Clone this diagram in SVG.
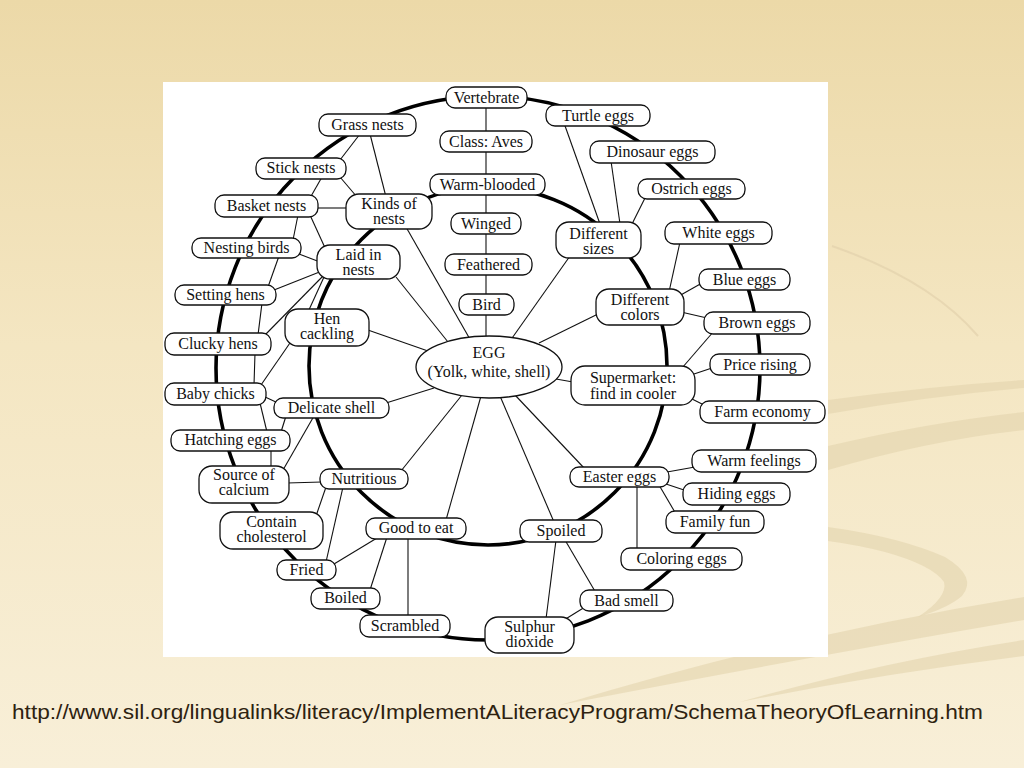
<svg xmlns="http://www.w3.org/2000/svg" width="1024" height="768" viewBox="0 0 1024 768">
<defs>
<linearGradient id="bg" x1="0" y1="0" x2="0" y2="1">
<stop offset="0" stop-color="#ECD9A8"/>
<stop offset="0.45" stop-color="#F4E6C2"/>
<stop offset="1" stop-color="#F8EFD8"/>
</linearGradient>
<style>
.n rect,.n ellipse{fill:#fff;stroke:#111;stroke-width:1.3}
.n text{font-family:"Liberation Serif","Times New Roman",serif;font-size:16px;fill:#111;text-anchor:middle}
.thin line{stroke:#111;stroke-width:1.1}
.thick{fill:none;stroke:#000;stroke-width:3.6}
.deco{fill:#E2D3AE;opacity:0.6}
</style>
</defs>
<rect x="0" y="0" width="1024" height="768" fill="url(#bg)"/>
<g id="background-swooshes">
<path d="M832 246 Q930 280 978 336" fill="none" stroke="#E2D2AC" stroke-width="2" opacity="0.7"/>
<path class="deco" d="M828 400 Q930 386 1024 380 L1024 388 Q930 396 828 414 Z" opacity="0.3"/>
<path class="deco" d="M1024 412 Q930 422 828 446 L828 470 Q930 440 1024 430 Z"/>
<path class="deco" d="M828 527 Q900 537 945 557 Q978 577 962 596 Q948 608 918 617 Q948 597 944 582 Q932 565 885 552 Q858 545 828 541 Z"/>
<path class="deco" d="M1024 597 L1024 620 Q820 655 560 705 Q790 635 1024 597 Z"/>
<path class="deco" d="M1024 640 Q880 662 740 702 Q880 674 1024 656 Z" opacity="0.35"/>
</g>
<rect x="163" y="82" width="665" height="575" fill="#fff"/>
<g id="connectors">
<circle class="thick" cx="488" cy="368" r="272"/>
<circle class="thick" cx="488" cy="366" r="179"/>
<g class="thin">
<line x1="486" y1="97" x2="486" y2="345"/>
<line x1="360" y1="134" x2="340" y2="160"/>
<line x1="370" y1="134" x2="386" y2="197"/>
<line x1="340" y1="177" x2="357" y2="197"/>
<line x1="322" y1="177" x2="310" y2="198"/>
<line x1="316" y1="208" x2="348" y2="208"/>
<line x1="298" y1="215" x2="293" y2="240"/>
<line x1="310" y1="215" x2="326" y2="250"/>
<line x1="406" y1="227" x2="471" y2="341"/>
<line x1="299" y1="254" x2="320" y2="262"/>
<line x1="279" y1="256" x2="268" y2="287"/>
<line x1="322" y1="271" x2="274" y2="290"/>
<line x1="324" y1="275" x2="264" y2="336"/>
<line x1="324" y1="277" x2="308" y2="312"/>
<line x1="396" y1="277" x2="452" y2="347"/>
<line x1="262" y1="303" x2="258" y2="335"/>
<line x1="365" y1="329" x2="428" y2="351"/>
<line x1="255" y1="353" x2="254" y2="385"/>
<line x1="292" y1="340" x2="261" y2="385"/>
<line x1="263" y1="396" x2="278" y2="403"/>
<line x1="260" y1="403" x2="267" y2="432"/>
<line x1="286" y1="416" x2="281" y2="432"/>
<line x1="314" y1="416" x2="283" y2="470"/>
<line x1="271" y1="449" x2="271" y2="468"/>
<line x1="386" y1="403" x2="434" y2="388"/>
<line x1="287" y1="483" x2="322" y2="482"/>
<line x1="401" y1="471" x2="462" y2="395"/>
<line x1="326" y1="487" x2="316" y2="516"/>
<line x1="343" y1="487" x2="326" y2="562"/>
<line x1="446" y1="520" x2="481" y2="396"/>
<line x1="377" y1="538" x2="334" y2="564"/>
<line x1="387" y1="537" x2="370" y2="590"/>
<line x1="408" y1="537" x2="408" y2="617"/>
<line x1="556" y1="379" x2="573" y2="382"/>
<line x1="515" y1="395" x2="585" y2="469"/>
<line x1="500" y1="396" x2="554" y2="522"/>
<line x1="691" y1="375" x2="712" y2="368"/>
<line x1="690" y1="398" x2="704" y2="405"/>
<line x1="667" y1="472" x2="695" y2="467"/>
<line x1="666" y1="484" x2="687" y2="491"/>
<line x1="659" y1="485" x2="676" y2="514"/>
<line x1="637" y1="485" x2="637" y2="550"/>
<line x1="565" y1="540" x2="596" y2="593"/>
<line x1="556" y1="540" x2="546" y2="619"/>
<line x1="585" y1="607" x2="564" y2="620"/>
<line x1="564" y1="123" x2="600" y2="224"/>
<line x1="611" y1="161" x2="620" y2="224"/>
<line x1="649" y1="190" x2="631" y2="226"/>
<line x1="570" y1="256" x2="510" y2="341"/>
<line x1="680" y1="242" x2="669" y2="292"/>
<line x1="679" y1="296" x2="702" y2="283"/>
<line x1="681" y1="312" x2="707" y2="318"/>
<line x1="598" y1="314" x2="539" y2="343"/>
<line x1="714" y1="331" x2="682" y2="368"/>
</g>
</g>
<g id="n-vertebrate" class="n"><rect x="446" y="87" width="81" height="21" rx="9"/><text x="486.5" y="103">Vertebrate</text></g>
<g id="n-aves" class="n"><rect x="440" y="131" width="92" height="21" rx="9"/><text x="486" y="147">Class: Aves</text></g>
<g id="n-warm" class="n"><rect x="430" y="174" width="115" height="21" rx="9"/><text x="487.5" y="190">Warm-blooded</text></g>
<g id="n-winged" class="n"><rect x="451" y="213" width="70" height="21" rx="9"/><text x="486" y="229">Winged</text></g>
<g id="n-feathered" class="n"><rect x="445" y="254" width="87" height="21" rx="9"/><text x="488.5" y="270">Feathered</text></g>
<g id="n-bird" class="n"><rect x="459" y="294" width="55" height="21" rx="9"/><text x="486.5" y="310">Bird</text></g>
<g id="n-egg" class="n"><ellipse cx="489" cy="367" rx="73" ry="31"/><text x="489" y="358">EGG</text><text x="489" y="377">(Yolk, white, shell)</text></g>
<g id="n-grass" class="n"><rect x="319" y="114" width="97" height="22" rx="9"/><text x="367.5" y="130">Grass nests</text></g>
<g id="n-stick" class="n"><rect x="256" y="158" width="90" height="21" rx="9"/><text x="301" y="173">Stick nests</text></g>
<g id="n-basket" class="n"><rect x="215" y="195" width="103" height="22" rx="9"/><text x="266.5" y="211">Basket nests</text></g>
<g id="n-kinds" class="n"><rect x="346" y="194" width="86" height="35" rx="13"/><text x="389" y="209">Kinds of</text><text x="389" y="224">nests</text></g>
<g id="n-nesting" class="n"><rect x="192" y="238" width="109" height="20" rx="9"/><text x="246.5" y="253">Nesting birds</text></g>
<g id="n-laid" class="n"><rect x="317" y="245" width="83" height="34" rx="13"/><text x="358.5" y="260">Laid in</text><text x="358.5" y="275">nests</text></g>
<g id="n-setting" class="n"><rect x="175" y="285" width="101" height="20" rx="9"/><text x="225.5" y="300">Setting hens</text></g>
<g id="n-hen" class="n"><rect x="285" y="309" width="84" height="37" rx="13"/><text x="327" y="324">Hen</text><text x="327" y="339">cackling</text></g>
<g id="n-clucky" class="n"><rect x="165" y="333" width="106" height="22" rx="9"/><text x="218" y="349">Clucky hens</text></g>
<g id="n-baby" class="n"><rect x="165" y="383" width="101" height="22" rx="9"/><text x="215.5" y="399">Baby chicks</text></g>
<g id="n-delicate" class="n"><rect x="274" y="398" width="115" height="20" rx="9"/><text x="331.5" y="413">Delicate shell</text></g>
<g id="n-hatching" class="n"><rect x="171" y="430" width="119" height="21" rx="9"/><text x="230.5" y="445">Hatching eggs</text></g>
<g id="n-calcium" class="n"><rect x="199" y="466" width="90" height="37" rx="13"/><text x="244" y="480">Source of</text><text x="244" y="495">calcium</text></g>
<g id="n-nutritious" class="n"><rect x="320" y="469" width="88" height="20" rx="9"/><text x="364" y="484">Nutritious</text></g>
<g id="n-cholesterol" class="n"><rect x="220" y="512" width="103" height="37" rx="13"/><text x="271.5" y="527">Contain</text><text x="271.5" y="542">cholesterol</text></g>
<g id="n-good" class="n"><rect x="366" y="518" width="100" height="21" rx="9"/><text x="416" y="533">Good to eat</text></g>
<g id="n-fried" class="n"><rect x="277" y="560" width="59" height="20" rx="9"/><text x="306.5" y="575">Fried</text></g>
<g id="n-boiled" class="n"><rect x="311" y="588" width="69" height="21" rx="9"/><text x="345.5" y="603">Boiled</text></g>
<g id="n-scrambled" class="n"><rect x="360" y="615" width="90" height="22" rx="9"/><text x="405" y="631">Scrambled</text></g>
<g id="n-turtle" class="n"><rect x="546" y="105" width="104" height="21" rx="9"/><text x="598" y="121">Turtle eggs</text></g>
<g id="n-dinosaur" class="n"><rect x="590" y="141" width="125" height="22" rx="9"/><text x="652.5" y="157">Dinosaur eggs</text></g>
<g id="n-ostrich" class="n"><rect x="638" y="179" width="107" height="20" rx="9"/><text x="691.5" y="194">Ostrich eggs</text></g>
<g id="n-sizes" class="n"><rect x="556" y="222" width="85" height="36" rx="13"/><text x="598.5" y="239">Different</text><text x="598.5" y="254">sizes</text></g>
<g id="n-white" class="n"><rect x="665" y="222" width="107" height="22" rx="9"/><text x="718.5" y="238">White eggs</text></g>
<g id="n-blue" class="n"><rect x="699" y="269" width="91" height="21" rx="9"/><text x="744.5" y="285">Blue eggs</text></g>
<g id="n-colors" class="n"><rect x="596" y="289" width="88" height="36" rx="13"/><text x="640" y="305">Different</text><text x="640" y="320">colors</text></g>
<g id="n-brown" class="n"><rect x="704" y="312" width="106" height="22" rx="9"/><text x="757" y="328">Brown eggs</text></g>
<g id="n-price" class="n"><rect x="710" y="354" width="100" height="21" rx="9"/><text x="760" y="370">Price rising</text></g>
<g id="n-supermarket" class="n"><rect x="571" y="366" width="124" height="39" rx="14"/><text x="633" y="383">Supermarket:</text><text x="633" y="399">find in cooler</text></g>
<g id="n-farm" class="n"><rect x="700" y="401" width="125" height="22" rx="9"/><text x="762.5" y="417">Farm economy</text></g>
<g id="n-warmfeel" class="n"><rect x="692" y="450" width="124" height="22" rx="9"/><text x="754" y="466">Warm feelings</text></g>
<g id="n-easter" class="n"><rect x="570" y="467" width="99" height="20" rx="9"/><text x="619.5" y="482">Easter eggs</text></g>
<g id="n-hiding" class="n"><rect x="683" y="483" width="107" height="22" rx="9"/><text x="736.5" y="499">Hiding eggs</text></g>
<g id="n-family" class="n"><rect x="666" y="511" width="98" height="22" rx="9"/><text x="715" y="527">Family fun</text></g>
<g id="n-spoiled" class="n"><rect x="520" y="520" width="82" height="22" rx="9"/><text x="561" y="536">Spoiled</text></g>
<g id="n-coloring" class="n"><rect x="621" y="548" width="121" height="22" rx="9"/><text x="681.5" y="564">Coloring eggs</text></g>
<g id="n-badsmell" class="n"><rect x="580" y="590" width="93" height="21" rx="9"/><text x="626.5" y="606">Bad smell</text></g>
<g id="n-sulphur" class="n"><rect x="485" y="617" width="89" height="36" rx="13"/><text x="529.5" y="632">Sulphur</text><text x="529.5" y="647">dioxide</text></g>
<text x="12" y="719" font-family="Liberation Sans, Arial, sans-serif" font-size="21" fill="#2E2210" textLength="971" lengthAdjust="spacingAndGlyphs">http://www.sil.org/lingualinks/literacy/ImplementALiteracyProgram/SchemaTheoryOfLearning.htm</text>
</svg>
